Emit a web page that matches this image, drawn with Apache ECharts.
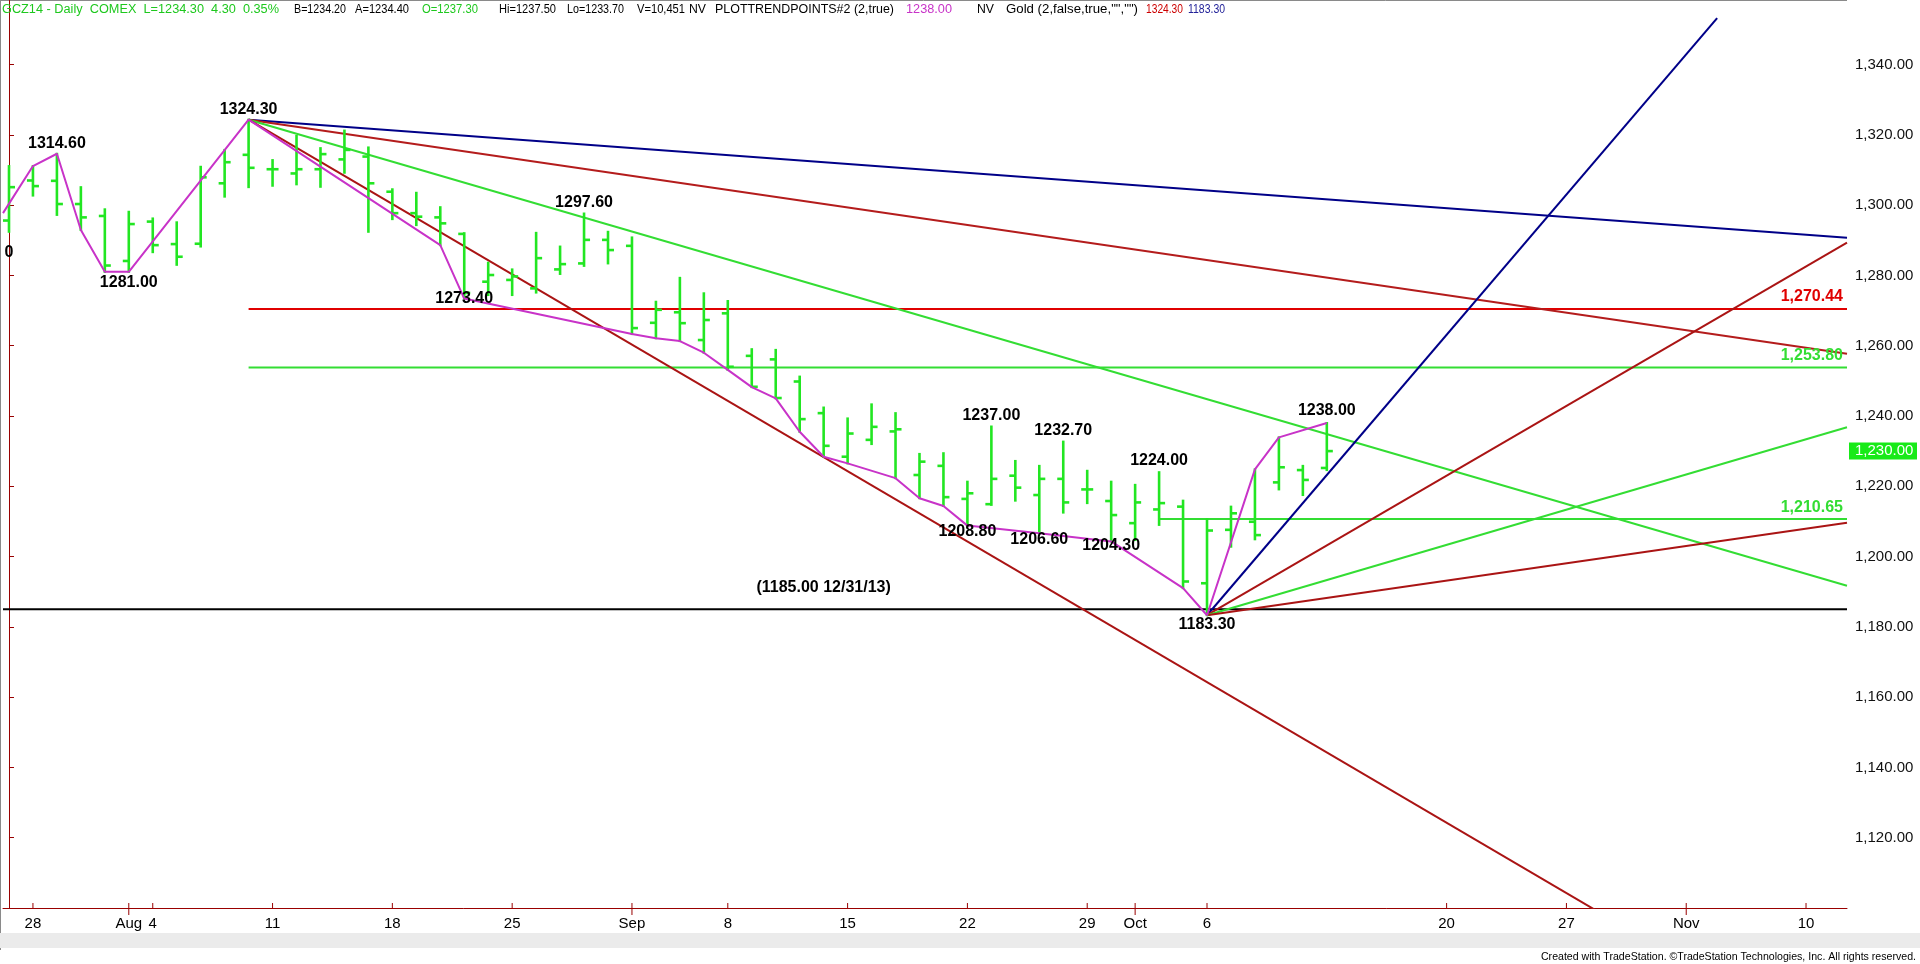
<!DOCTYPE html>
<html><head><meta charset="utf-8">
<script src="https://cdn.jsdelivr.net/npm/echarts@6/dist/echarts.min.js"></script>
<style>html,body{margin:0;padding:0;background:#fff;overflow:hidden}#c{width:1920px;height:964px}</style>
</head><body><div id="c"></div>
<script>
// ---------- DATA ----------
const dates = ['2014-07-25','2014-07-28','2014-07-29','2014-07-30','2014-07-31',
 '2014-08-01','2014-08-04','2014-08-05','2014-08-06','2014-08-07','2014-08-08',
 '2014-08-11','2014-08-12','2014-08-13','2014-08-14','2014-08-15',
 '2014-08-18','2014-08-19','2014-08-20','2014-08-21','2014-08-22',
 '2014-08-25','2014-08-26','2014-08-27','2014-08-28','2014-08-29',
 '2014-09-02','2014-09-03','2014-09-04','2014-09-05',
 '2014-09-08','2014-09-09','2014-09-10','2014-09-11','2014-09-12',
 '2014-09-15','2014-09-16','2014-09-17','2014-09-18','2014-09-19',
 '2014-09-22','2014-09-23','2014-09-24','2014-09-25','2014-09-26',
 '2014-09-29','2014-09-30','2014-10-01','2014-10-02','2014-10-03',
 '2014-10-06','2014-10-07','2014-10-08','2014-10-09','2014-10-10',
 '2014-10-13','2014-10-14','2014-10-15','2014-10-16','2014-10-17',
 '2014-10-20','2014-10-21','2014-10-22','2014-10-23','2014-10-24',
 '2014-10-27','2014-10-28','2014-10-29','2014-10-30','2014-10-31',
 '2014-11-03','2014-11-04','2014-11-05','2014-11-06','2014-11-07',
 '2014-11-10','2014-11-11'];

const opens  = [1295.6,1307.0,1306.9,1300.3,1296.9,1284.1,1295.3,1288.9,1289.0,1306.2,1314.3,
 1310.2,1309.0,1310.2,1313.0,1313.8,1303.8,1297.7,1296.5,1291.8,1278.2,
 1278.7,1276.3,1281.7,1283.4,1290.1,1288.4,1266.5,1269.5,1261.6,
 1269.2,1257.1,1256.1,1249.8,1240.8,1228.4,1233.2,1235.6,1223.2,1225.8,
 1216.4,1214.9,1223.0,1217.5,1222.1,1219.1,1215.8,1209.5,1213.4,1214.2,
 1192.4,1207.6,1209.9,1221.1,1224.6,1225.2];
const highs  = [1311.1,1311.1,1314.6,1305.1,1298.8,1298.1,1296.2,1295.1,1310.9,1315.7,1324.3,
 1312.8,1319.7,1316.2,1321.2,1316.4,1304.5,1303.5,1299.4,1292.0,1283.6,
 1281.7,1292.1,1288.2,1297.6,1292.4,1290.8,1272.5,1279.3,1274.9,
 1272.7,1259.0,1258.8,1251.2,1242.4,1239.3,1243.3,1240.8,1229.2,1229.4,
 1221.3,1237.0,1227.2,1225.8,1232.7,1224.4,1221.3,1220.4,1224.0,1215.9,
 1210.6,1214.2,1224.8,1233.9,1225.8,1238.0];
const lows   = [1292.4,1302.7,1297.2,1292.9,1281.0,1281.0,1286.6,1283.0,1288.2,1302.4,1305.1,
 1305.5,1305.9,1305.2,1309.2,1292.4,1296.0,1294.3,1288.6,1273.4,1274.4,
 1274.4,1275.1,1280.4,1282.7,1283.4,1263.3,1262.1,1261.3,1258.0,
 1253.1,1248.2,1245.0,1235.5,1228.4,1226.5,1232.0,1222.3,1216.6,1214.4,
 1208.8,1214.7,1215.9,1206.6,1212.5,1215.2,1204.3,1204.7,1209.0,1191.0,
 1183.3,1202.8,1204.9,1219.1,1217.5,1224.6];
const closes = [1305.1,1305.4,1300.3,1296.5,1282.8,1294.6,1288.6,1285.3,1307.9,1312.2,1310.6,
 1310.2,1310.2,1314.5,1315.7,1306.2,1297.7,1296.7,1294.8,1275.0,1280.1,
 1279.7,1284.9,1283.2,1290.1,1287.2,1265.0,1270.2,1266.4,1267.3,
 1254.0,1248.3,1245.1,1239.1,1231.5,1235.0,1236.9,1236.2,1227.0,1216.9,
 1218.0,1222.1,1219.6,1222.1,1215.4,1219.1,1211.8,1215.4,1215.2,1192.9,
 1207.4,1212.3,1206.1,1225.4,1221.8,1230.0];

// swing line (PLOTTRENDPOINTS) : [bar index, price]
const swingPoints = [[-0.25,1297.7],[1,1311.1],[2,1314.6],[3,1292.9],[4,1281.0],[5,1281.0],
 [10,1324.3],[18,1288.6],[19,1273.4],[26,1263.3],[27,1262.1],[28,1261.3],[29,1258.0],
 [30,1253.1],[31,1248.2],[32,1245.0],[33,1235.5],[34,1228.4],[35,1226.5],[37,1222.3],
 [38,1216.6],[39,1214.4],[40,1208.8],[43,1206.6],[46,1204.3],[49,1191.0],[50,1183.3],
 [52,1224.8],[53,1233.9],[55,1238.0]];

// pivot labels: [bar index, price, text]
const pivotLabels = [[0,1286.5,'0'],[2,1314.6,'1314.60'],[5,1281.0,'1281.00'],[10,1324.3,'1324.30'],
 [19,1273.4,'1273.40'],[24,1297.6,'1297.60'],[40,1208.8,'1208.80'],[41,1237.0,'1237.00'],
 [43,1206.6,'1206.60'],[44,1232.7,'1232.70'],[46,1204.3,'1204.30'],[48,1224.0,'1224.00'],
 [50,1183.3,'1183.30'],[55,1238.0,'1238.00']];

// fan lines
const highAnchor = [10,1324.3];
const highFanEnds = [[76.71,1290.7],[76.71,1257.7],[76.71,1191.7],[76.71,1057.4]];
const lowAnchor = [50,1183.3];
const lowFanEnds = [[71.29,1353.2],[76.71,1289.3],[76.71,1236.8],[76.71,1209.6]];

// horizontal levels: [price, start bar index]
const levels = [[1270.44,10],[1253.80,10],[1210.65,48],[1185.00,-0.25]];
const levelLabels = ['1,270.44','1,253.80','1,210.65'];
const noteText = '(1185.00 12/31/13)';
const noteAt = [34,1185.0];
const lastPrice = 1230.00;

// axis tick labels
const tickDates  = ['2014-07-28','2014-08-01','2014-08-04','2014-08-11','2014-08-18','2014-08-25',
 '2014-09-02','2014-09-08','2014-09-15','2014-09-22','2014-09-29','2014-10-01','2014-10-06',
 '2014-10-20','2014-10-27','2014-11-03','2014-11-10'];
const tickLabels = ['28','Aug','4','11','18','25','Sep','8','15','22','29','Oct','6','20','27','Nov','10'];
const monthTicks = ['Aug','Sep','Oct','Nov'];
const yMin = 1100, yMax = 1358.35, yStep = 20;
const xMin = -0.25, xMax = 76.71;

// header texts
const headerTexts = ['GCZ14 - Daily  COMEX  L=1234.30  4.30  0.35%','B=1234.20','A=1234.40','O=1237.30',
 'Hi=1237.50','Lo=1233.70','V=10,451','NV','PLOTTRENDPOINTS#2 (2,true)','1238.00','NV',
 'Gold (2,false,true,"","")','1324.30','1183.30'];

// ---------- STYLE / LAYOUT ----------
const C_BAR = '#22e622', C_GREEN = '#33dd33', C_RED = '#e00000', C_DRED = '#aa1414',
      C_NAVY = '#000088', C_MAG = '#c833c8', C_AXIS = '#990000', C_HG = '#1ec81e';
const FONT = '"Liberation Sans", Arial, sans-serif';
const pivotDy = {'0':0,'1314.60':-10.5,'1281.00':10.4,'1324.30':-10.4,'1273.40':0,'1297.60':-11,
 '1208.80':6,'1237.00':-10.6,'1206.60':6,'1232.70':-11,'1204.30':4.4,'1224.00':-11.4,
 '1183.30':9.7,'1238.00':-12};
// header layout: [x, width, color]
const headerLayout = [[2,277,C_HG],[294,52,'#000'],[355,54,'#000'],[422,56,C_HG],[499,57,'#000'],
 [567,57,'#000'],[637,48,'#000'],[689,17,'#000'],[715,179,'#000'],[906,46,C_MAG],[977,17,'#000'],
 [1006,132,'#000'],[1146,37,'#cc0000'],[1188,37,'#222299']];

const labelMap = {};
tickDates.forEach((d,k)=>{ labelMap[dates.indexOf(d)] = tickLabels[k]; });

const barData = opens.map((o,i)=>[i,o,highs[i],lows[i],closes[i]]);

function lineSeries(data,color,width){
  return {type:'line',data:data,symbol:'none',showSymbol:false,silent:true,animation:false,
    lineStyle:{color:color,width:width},z:3};
}
const series = [];
const levelColors = [C_RED,C_GREEN,C_GREEN,'#000000'];
levels.forEach((l,k)=>series.push(lineSeries([[l[1],l[0]],[xMax,l[0]]],levelColors[k],2)));
series.push({type:'custom',data:barData,encode:{x:0,y:[1,2,3,4]},silent:true,animation:false,z:4,
  renderItem:function(params,api){
    const i=api.value(0);
    const h=api.coord([i,api.value(2)]), l=api.coord([i,api.value(3)]);
    const o=api.coord([i,api.value(1)]), c=api.coord([i,api.value(4)]);
    const st={stroke:C_BAR,lineWidth:2.6};
    return {type:'group',children:[
      {type:'line',shape:{x1:h[0],y1:h[1]-1,x2:l[0],y2:l[1]+1},style:st},
      {type:'line',shape:{x1:o[0]-6,y1:o[1],x2:o[0],y2:o[1]},style:st},
      {type:'line',shape:{x1:c[0],y1:c[1],x2:c[0]+6,y2:c[1]},style:st}]};
  }});
const highColors=[C_NAVY,'#b41c1c',C_GREEN,C_DRED];
highFanEnds.forEach((e,k)=>series.push(lineSeries([highAnchor,e],highColors[k],2)));
const lowColors=[C_NAVY,C_DRED,C_GREEN,C_DRED];
lowFanEnds.forEach((e,k)=>series.push(lineSeries([lowAnchor,e],lowColors[k],2)));
series.push(Object.assign(lineSeries(swingPoints,C_MAG,2),{z:5}));
series.push({type:'custom',data:pivotLabels.map(p=>[p[0],p[1]]),encode:{x:0,y:1},silent:true,animation:false,z:6,
  renderItem:function(params,api){
    const p=api.coord([api.value(0),api.value(1)]);
    const t=pivotLabels[params.dataIndex][2];
    return {type:'text',style:{text:t,x:p[0],y:p[1]+(pivotDy[t]||0),align:'center',verticalAlign:'middle',
      fill:'#000',font:'bold 16px '+FONT}};
  }});
series.push({type:'custom',data:[noteAt],encode:{x:0,y:1},silent:true,animation:false,z:6,
  renderItem:function(params,api){
    const p=api.coord([api.value(0),api.value(1)]);
    return {type:'text',style:{text:noteText,x:p[0],y:p[1]-21.6,align:'center',verticalAlign:'middle',
      fill:'#000',font:'bold 16px '+FONT}};
  }});
const levelLabelColors=[C_RED,C_GREEN,C_GREEN];
series.push({type:'custom',data:levels.slice(0,3).map(l=>[xMax,l[0]]),encode:{x:0,y:1},silent:true,animation:false,z:6,
  renderItem:function(params,api){
    const p=api.coord([api.value(0),api.value(1)]);
    return {type:'text',style:{text:levelLabels[params.dataIndex],x:p[0]-4,y:p[1]-12,align:'right',verticalAlign:'middle',
      fill:levelLabelColors[params.dataIndex],font:'bold 16px '+FONT}};
  }});
series.push({type:'custom',data:[[xMax,lastPrice]],encode:{x:0,y:1},silent:true,animation:false,z:7,clip:false,
  renderItem:function(params,api){
    const p=api.coord([api.value(0),api.value(1)]);
    return {type:'group',children:[
      {type:'rect',shape:{x:p[0]+2,y:p[1]-8.5,width:68,height:17},style:{fill:'#18ea18'}},
      {type:'text',style:{text:lastPrice.toLocaleString('en-US',{minimumFractionDigits:2}),x:p[0]+8,y:p[1],
        align:'left',verticalAlign:'middle',fill:'#fff',font:'15px '+FONT}}]};
  }});
series.push({type:'custom',data:tickDates.map((d,k)=>[dates.indexOf(d),yMin]),encode:{x:0,y:1},silent:true,animation:false,z:7,clip:false,
  renderItem:function(params,api){
    const p=api.coord([api.value(0),yMin]);
    const isMonth=monthTicks.indexOf(tickLabels[params.dataIndex])>=0;
    return {type:'line',shape:{x1:p[0],y1:p[1]-5,x2:p[0],y2:p[1]+(isMonth?7:0)},style:{stroke:C_AXIS,lineWidth:1}};
  }});

// measure header text to fit widths
const HFONT = '12.3px '+FONT;
const mctx = document.createElement('canvas').getContext('2d');
mctx.font = HFONT;

const graphic = [
  {type:'rect',shape:{x:0,y:933,width:1920,height:15},style:{fill:'#ebebeb'},z:1},
  {type:'line',shape:{x1:0.5,y1:0,x2:0.5,y2:950},style:{stroke:'#8a8a8a',lineWidth:1}},
  {type:'line',shape:{x1:0,y1:0.5,x2:1847,y2:0.5},style:{stroke:'#8a8a8a',lineWidth:1}},
  {type:'text',style:{text:'◂',x:6,y:940,font:'9px '+FONT,fill:'#666',verticalAlign:'middle'}},
  {type:'rect',shape:{x:1884,y:935,width:16,height:12},style:{fill:'#e0e0e0',stroke:'#999',lineWidth:1}},
  {type:'text',style:{text:'▸',x:1908,y:941,font:'9px '+FONT,fill:'#666',verticalAlign:'middle'}},
  {type:'text',style:{text:'Created with TradeStation. ©TradeStation Technologies, Inc. All rights reserved.',
    x:1916,y:957,align:'right',verticalAlign:'middle',font:'10.6px '+FONT,fill:'#000'}}
];
headerTexts.forEach((t,k)=>{
  const lay = headerLayout[k];
  const w = mctx.measureText(t).width || lay[1];
  graphic.push({type:'text',z:10,x:lay[0],y:10,scaleX:lay[1]/w,
    style:{text:t,x:0,y:0,verticalAlign:'middle',font:HFONT,fill:lay[2]}});
});

const chart = echarts.init(document.getElementById('c'),null,{renderer:'canvas'});
chart.setOption({
  animation:false,
  backgroundColor:'#ffffff',
  grid:{left:0,right:73,top:0,bottom:56,containLabel:false},
  xAxis:{type:'value',min:xMin,max:xMax,interval:0.25,
    axisLine:{show:true,onZero:false,lineStyle:{color:C_AXIS,width:1}},
    axisTick:{show:false},splitLine:{show:false},
    axisLabel:{margin:8,fontSize:15,fontFamily:FONT,color:'#000',
      formatter:function(v){const r=Math.round(v*4)/4; return (Number.isInteger(r)&&labelMap[r]!==undefined)?labelMap[r]:'';}}},
  yAxis:{type:'value',position:'right',min:yMin,max:yMax,interval:yStep,
    axisLine:{show:true,lineStyle:{color:C_AXIS,width:1}},
    axisTick:{show:true,length:5,lineStyle:{color:C_AXIS}},
    splitLine:{show:false},
    axisLabel:{margin:8,fontSize:15,fontFamily:FONT,color:'#111',showMinLabel:false,showMaxLabel:false,
      formatter:function(v){return v.toLocaleString('en-US',{minimumFractionDigits:2,maximumFractionDigits:2});}}},
  series:series,
  graphic:graphic
});
</script></body></html>
